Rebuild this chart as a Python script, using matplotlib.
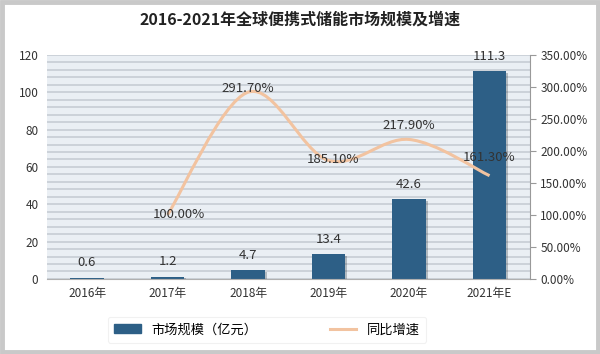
import numpy as np
import matplotlib
matplotlib.use('Agg')
import matplotlib.pyplot as plt
from matplotlib.path import Path
from matplotlib.patches import PathPatch, Rectangle
from matplotlib.lines import Line2D
import matplotlib.patheffects as pe

plt.rcParams['font.family'] = ['Noto Sans CJK SC', 'DejaVu Sans']

years = ['2016年', '2017年', '2018年', '2019年', '2020年', '2021年E']
market_size = [0.6, 1.2, 4.7, 13.4, 42.6, 111.3]
growth_years = [1, 2, 3, 4, 5]
growth_rate = [100.00, 291.70, 185.10, 217.90, 161.30]
growth_labels = ['100.00%', '291.70%', '185.10%', '217.90%', '161.30%']
# label offsets in points (dx, dy)
growth_offsets = [(8, 0), (0, 3), (3, 1), (0, 10), (0, 13)]

BAR_COLOR = '#2d5f86'
LINE_COLOR = '#f2c3a0'


def smooth_path(xs, ys, k=1 / 6):
    # Catmull-Rom style Bezier through the data points
    pts = np.column_stack([xs, ys]).astype(float)
    verts = [pts[0]]
    codes = [Path.MOVETO]
    n = len(pts)
    for i in range(n - 1):
        p0 = pts[i - 1] if i > 0 else pts[i]
        p1 = pts[i]
        p2 = pts[i + 1]
        p3 = pts[i + 2] if i + 2 < n else pts[i + 1]
        c1 = p1 + (p2 - p0) * k
        c2 = p2 - (p3 - p1) * k
        verts += [c1, c2, p2]
        codes += [Path.CURVE4] * 3
    return Path(verts, codes)


fig = plt.figure(figsize=(6, 3.54), dpi=100)
fig.patches.append(Rectangle((0.004, 0.006), 0.992, 0.988, transform=fig.transFigure,
                             fill=False, edgecolor='#c9c9c9', linewidth=3.5))

ax = fig.add_axes([0.078, 0.212, 0.805, 0.633])
ax2 = ax.twinx()

x = np.arange(len(years))
ax.set_facecolor('#eaeff4')
for yv in np.arange(0, 121, 4):
    ax.axhline(yv, color='#c3cad2', linewidth=1.1, zorder=0)

bars = ax.bar(x, market_size, width=0.42, color=BAR_COLOR, zorder=2,
              path_effects=[pe.SimplePatchShadow(offset=(1.2, -1.2), alpha=0.25), pe.Normal()])
for xi, v in zip(x, market_size):
    ax.annotate(f'{v}', (xi, v), xytext=(0, 6), textcoords='offset points',
                ha='center', va='bottom', fontsize=9.5, color='#333333')

ax.set_xlim(-0.5, len(years) - 0.5)
ax.set_ylim(0, 120)
ax.set_yticks(np.arange(0, 121, 20))
ax.set_xticks(x)
ax.set_xticklabels(years)
ax.tick_params(axis='both', length=0, labelsize=8.5, colors='#333333', pad=6)
for s in ['top', 'right', 'left']:
    ax.spines[s].set_visible(False)
ax.spines['bottom'].set_color('#b0b0b0')

ax2.set_ylim(0, 350)
ax2.set_yticks(np.arange(0, 351, 50))
ax2.set_yticklabels([f'{v:.2f}%' for v in np.arange(0, 351, 50)])
ax2.tick_params(axis='y', length=4, color='#999999', labelsize=8.5, colors='#333333')
ax2.spines['right'].set_color('#999999')
for s in ['top', 'left', 'bottom']:
    ax2.spines[s].set_visible(False)

path = smooth_path(growth_years, growth_rate)
ax2.add_patch(PathPatch(path, facecolor='none', edgecolor=LINE_COLOR, linewidth=2.2, zorder=3))
for xi, v, lab, off in zip(growth_years, growth_rate, growth_labels, growth_offsets):
    ax2.annotate(lab, (xi, v), xytext=off, textcoords='offset points',
                 ha='center', va='center', fontsize=9.5, color='#333333', zorder=4)

fig.text(0.5, 0.944, '2016-2021年全球便携式储能市场规模及增速', ha='center', va='center',
         fontsize=11.5, fontweight='bold', color='#222222')

handles = [Rectangle((0, 0), 1, 1, color=BAR_COLOR),
           Line2D([0], [0], color=LINE_COLOR, linewidth=2.2)]
leg = fig.legend(handles, ['市场规模（亿元）', '同比增速'], loc='center',
                 bbox_to_anchor=(0.445, 0.068), ncol=2, frameon=True, fontsize=9.5,
                 columnspacing=5.5, handlelength=2.0, borderpad=0.5)
leg.get_frame().set_edgecolor('#eeeeee')
leg.get_frame().set_linewidth(0.8)

fig.savefig('out.png', dpi=100)
